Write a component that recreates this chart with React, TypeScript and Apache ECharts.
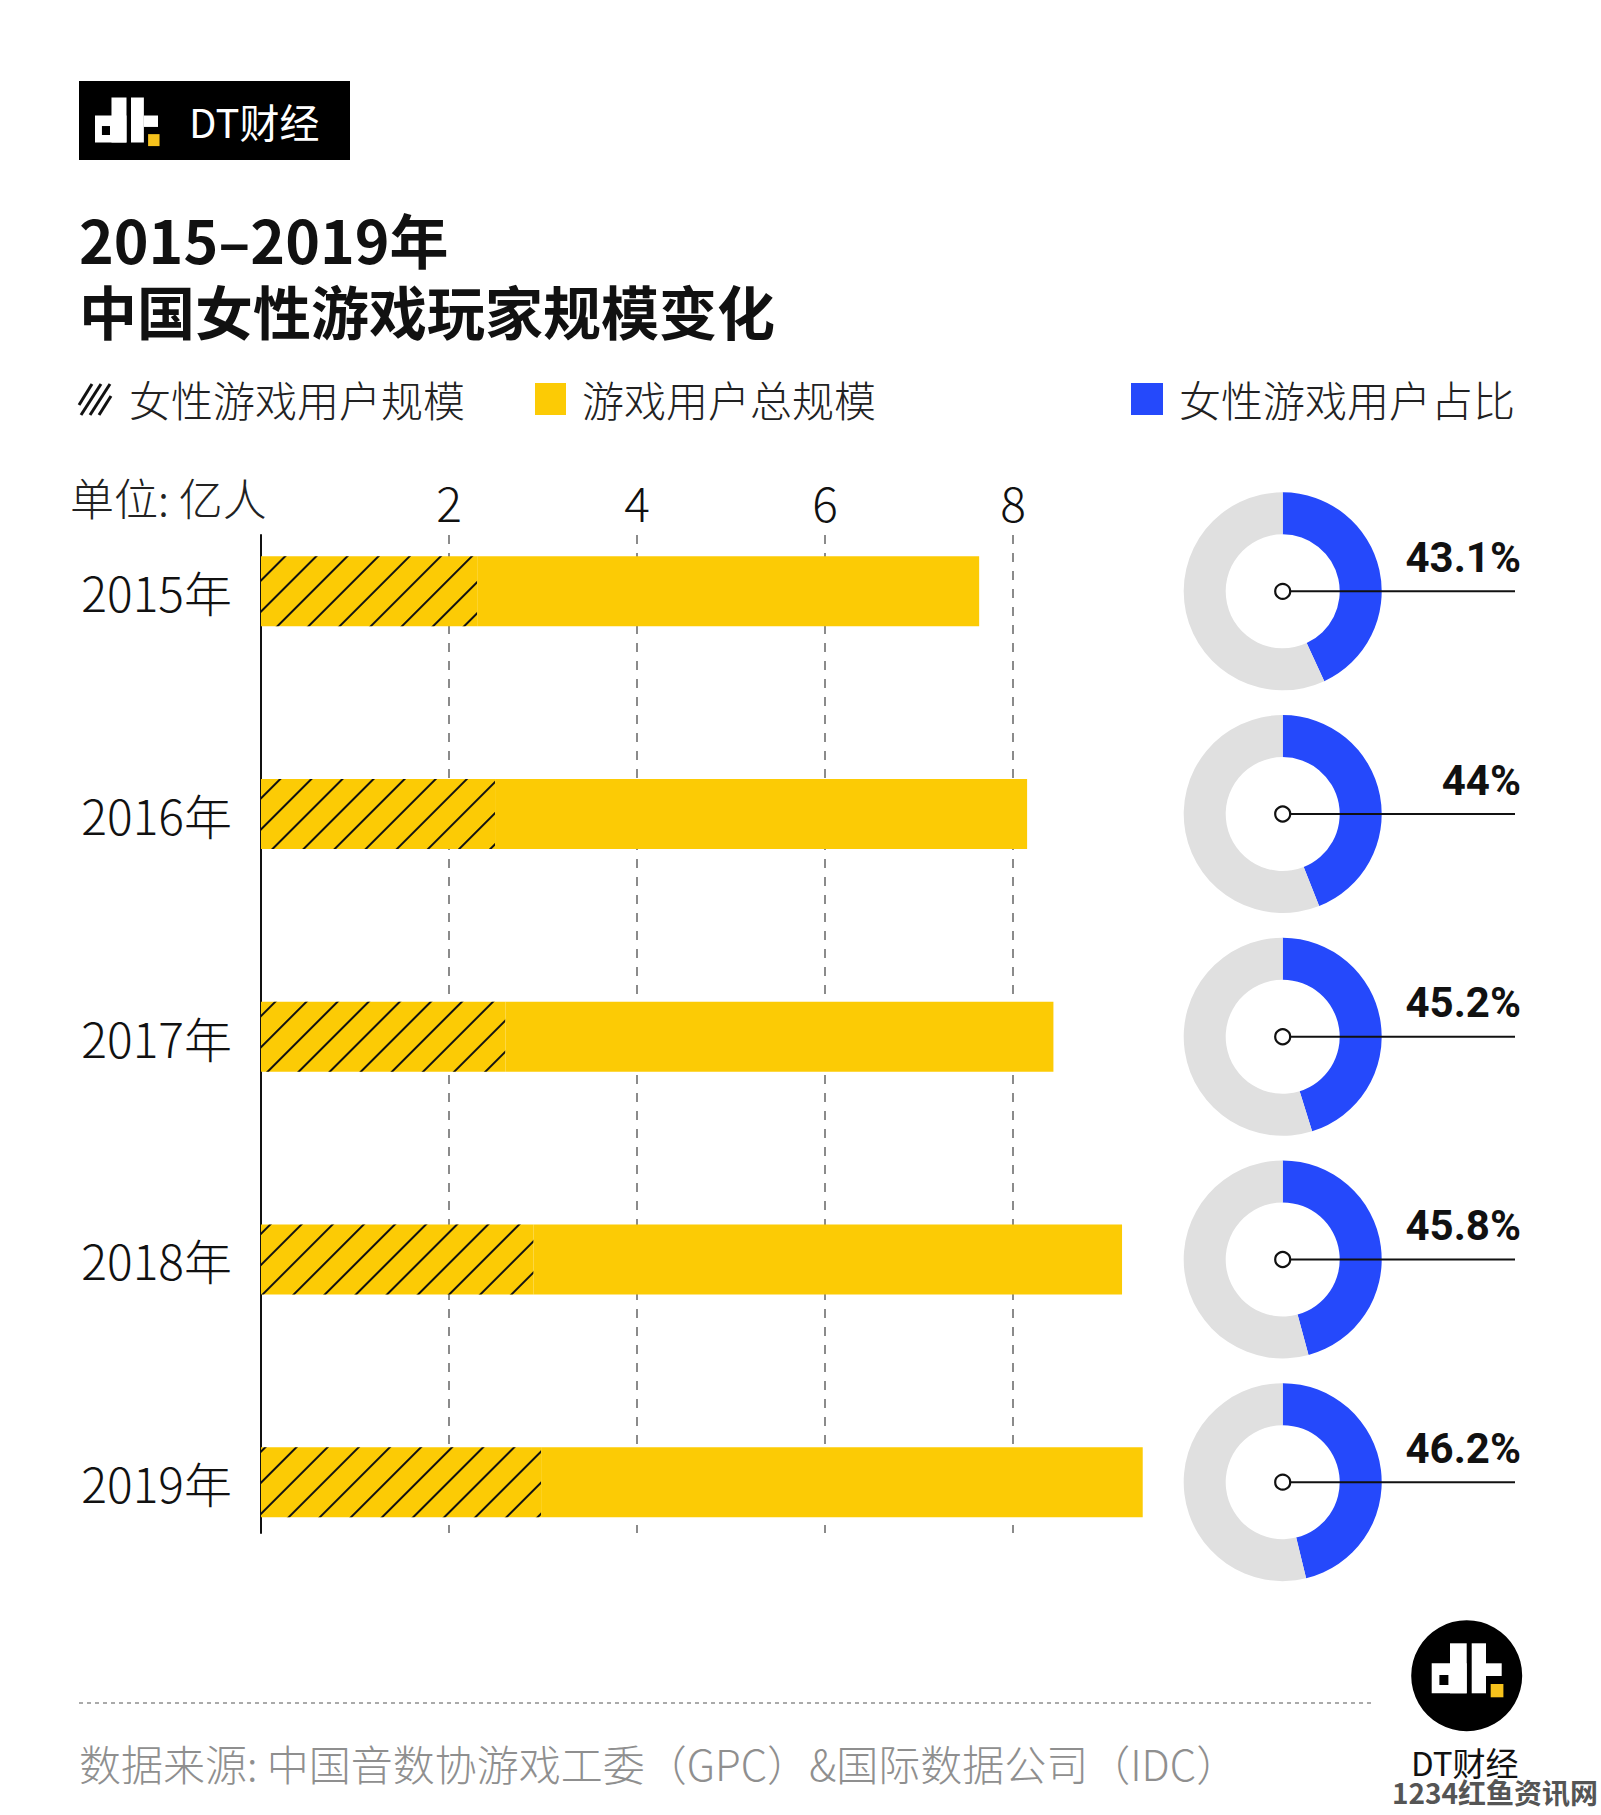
import React, { useEffect, useRef } from 'react';
import * as echarts from 'echarts';

// ---------- data ----------
const YEARS = ['2015年', '2016年', '2017年', '2018年', '2019年'];
const FEMALE = [2.3, 2.49, 2.6, 2.9, 2.98]; // 女性游戏用户规模 (亿人)
const TOTAL = [5.34, 5.66, 5.83, 6.26, 6.4]; // 游戏用户总规模 (亿人)
const SHARE = [43.1, 44, 45.2, 45.8, 46.2]; // 女性游戏用户占比 (%)

const TITLE_1 = '2015–2019年';
const TITLE_2 = '中国女性游戏玩家规模变化';
const LEGEND = ['女性游戏用户规模', '游戏用户总规模', '女性游戏用户占比'];
const UNIT = '单位: 亿人';
const SOURCE = '数据来源: 中国音数协游戏工委（GPC）&国际数据公司（IDC）';

// ---------- style ----------
const YELLOW = '#fccb05';
const BLUE = '#2549fb';
const GRAY = '#e0e0e0';
const LOGO_YELLOW = '#f6c21c';
const FONT = '"Noto Sans CJK SC", "Noto Sans", sans-serif';
const NUM_FONT = 'Roboto, "DejaVu Sans", sans-serif';

// layout
const PLOT_LEFT = 261;
const UNIT_PX = 94;
const GRID_TOP = 480;
const BAND = 222.7;
const PIE_X = 1282.7;

function logo(x0: number, y0: number, s: number) {
  const r = (x: number, y: number, w: number, h: number, fill: string, z: number) => ({
    type: 'rect',
    z,
    shape: { x: x0 + x * s, y: y0 + y * s, width: w * s, height: h * s },
    style: { fill },
    silent: true,
  });
  return [
    r(0, 20, 35, 30, '#fff', 110),
    r(18.3, 0, 16.7, 50, '#fff', 110),
    r(7.7, 31.7, 9, 10, '#000', 111),
    r(40, 0, 14.3, 50, '#fff', 110),
    r(54.3, 20, 15.7, 12.7, '#fff', 110),
    r(59, 40.7, 12.7, 13.3, LOGO_YELLOW, 110),
  ];
}

function text(x: number, y: number, t: string, size: number, fill: string, opts: any = {}) {
  return {
    type: 'text',
    x,
    y,
    z: 120,
    silent: true,
    style: {
      text: t,
      fontSize: size,
      lineHeight: size,
      fontFamily: opts.fontFamily || FONT,
      fontWeight: opts.fontWeight || 'normal',
      fill,
      align: opts.align || 'left',
      verticalAlign: 'middle',
      stroke: opts.stroke,
      lineWidth: opts.lineWidth,
    },
  };
}

function buildOption() {
  const centers = YEARS.map((_, i) => GRID_TOP + (i + 0.5) * BAND);

  const pies = SHARE.map((s, i) => ({
    type: 'pie',
    center: [PIE_X, centers[i]],
    radius: [57, 99],
    startAngle: 90,
    clockwise: true,
    silent: true,
    label: { show: false },
    labelLine: { show: false },
    emphasis: { disabled: true },
    data: [
      { value: s, name: 'female', itemStyle: { color: BLUE } },
      { value: 100 - s, name: 'other', itemStyle: { color: GRAY } },
    ],
  }));

  const graphics: any[] = [];
  // top-left brand box
  graphics.push({ type: 'rect', z: 100, shape: { x: 79, y: 81, width: 271, height: 79 }, style: { fill: '#000' }, silent: true });
  graphics.push(...logo(95, 97.5, 0.9));
  graphics.push(text(189, 121, 'DT财经', 40, '#fff'));
  // titles
  graphics.push(text(79, 238, TITLE_1, 59, '#111', { fontWeight: 'bold' }));
  graphics.push(text(79, 310, TITLE_2, 58, '#111', { fontWeight: 'bold' }));
  // legend
  const hatch = [
    [79, 405, 92, 384],
    [81, 415, 101, 384],
    [90, 415, 110, 384],
    [99, 415, 111, 396],
  ];
  hatch.forEach(([x1, y1, x2, y2]) =>
    graphics.push({ type: 'line', z: 120, silent: true, shape: { x1, y1, x2, y2 }, style: { stroke: '#111', lineWidth: 3 } })
  );
  graphics.push(text(129, 398, LEGEND[0], 42, '#222', { fontWeight: 300 }));
  graphics.push({ type: 'rect', z: 120, silent: true, shape: { x: 535, y: 383, width: 31, height: 32 }, style: { fill: YELLOW } });
  graphics.push(text(582, 398, LEGEND[1], 42, '#222', { fontWeight: 300 }));
  graphics.push({ type: 'rect', z: 120, silent: true, shape: { x: 1131, y: 383, width: 32, height: 32 }, style: { fill: BLUE } });
  graphics.push(text(1179, 398, LEGEND[2], 42, '#222', { fontWeight: 300 }));
  // unit
  graphics.push(text(70, 497, UNIT, 44, '#222', { fontWeight: 300 }));
  // pie annotations
  SHARE.forEach((s, i) => {
    const cy = centers[i];
    graphics.push({ type: 'line', z: 120, silent: true, shape: { x1: PIE_X, y1: cy, x2: 1515, y2: cy }, style: { stroke: '#111', lineWidth: 2 } });
    graphics.push({ type: 'circle', z: 121, silent: true, shape: { cx: PIE_X, cy, r: 7.5 }, style: { fill: '#fff', stroke: '#111', lineWidth: 2.2 } });
    graphics.push(text(1521, cy - 34, `${s}%`, 42, '#111', { fontWeight: 'bold', align: 'right', fontFamily: NUM_FONT }));
  });
  // footer
  graphics.push({ type: 'line', z: 120, silent: true, shape: { x1: 79, y1: 1703, x2: 1371, y2: 1703 }, style: { stroke: '#aaa', lineWidth: 2, lineDash: [4, 4] } });
  graphics.push(text(79, 1762, SOURCE, 42, '#8f8f8f', { fontWeight: 300 }));
  // bottom-right logo
  graphics.push({ type: 'circle', z: 100, silent: true, shape: { cx: 1466.7, cy: 1675.7, r: 55.5 }, style: { fill: '#000' } });
  graphics.push(...logo(1431.7, 1643.3, 1));
  graphics.push(text(1411, 1762, 'DT财经', 33, '#111'));
  graphics.push(text(1598, 1792, '1234红鱼资讯网', 28, '#555', { fontWeight: 'bold', align: 'right', stroke: '#fff', lineWidth: 3 }));

  return {
    animation: false,
    backgroundColor: '#fff',
    grid: [
      { left: PLOT_LEFT, top: GRID_TOP, width: UNIT_PX * 10, height: BAND * YEARS.length },
      { left: PLOT_LEFT, top: 535, width: UNIT_PX * 8, height: 998 },
    ],
    xAxis: [
      {
        type: 'value',
        gridIndex: 0,
        min: 0,
        max: 10,
        show: false,
      },
      {
        type: 'value',
        gridIndex: 1,
        min: 0,
        max: 8,
        interval: 2,
        position: 'top',
        axisLine: { show: false },
        axisTick: { show: false },
        axisLabel: {
          margin: 10,
          fontSize: 48,
          lineHeight: 48,
          fontFamily: FONT,
          fontWeight: 300,
          color: '#111',
          formatter: (v: number) => (v === 0 ? '' : String(v)),
        },
        splitLine: { show: true, lineStyle: { color: '#666', width: 1.5, type: [9, 9] } },
      },
    ],
    yAxis: [
      {
        type: 'category',
        gridIndex: 0,
        data: YEARS,
        inverse: true,
        axisLine: { show: false },
        axisTick: { show: false },
        splitLine: { show: false },
        axisLabel: { margin: 29, fontSize: 48, fontFamily: FONT, fontWeight: 300, color: '#111' },
      },
      {
        type: 'value',
        gridIndex: 1,
        min: 0,
        max: 1,
        axisLine: { show: true, lineStyle: { color: '#111', width: 2 } },
        axisTick: { show: false },
        axisLabel: { show: false },
        splitLine: { show: false },
      },
    ],
    series: [
      {
        type: 'line',
        xAxisIndex: 1,
        yAxisIndex: 1,
        data: [],
        silent: true,
      },
      {
        name: LEGEND[0],
        type: 'bar',
        stack: 'users',
        xAxisIndex: 0,
        yAxisIndex: 0,
        barWidth: 70,
        silent: true,
        itemStyle: {
          color: YELLOW,
          decal: {
            symbol: 'rect',
            symbolSize: 1,
            color: '#111',
            dashArrayX: [1, 0],
            dashArrayY: [2, 20],
            rotation: -Math.PI / 4,
          },
        },
        data: FEMALE,
      },
      {
        name: LEGEND[1],
        type: 'bar',
        stack: 'users',
        xAxisIndex: 0,
        yAxisIndex: 0,
        barWidth: 70,
        silent: true,
        itemStyle: { color: YELLOW },
        data: TOTAL,
      },
      ...pies,
    ],
    graphic: { elements: graphics },
  };
}

export default function App() {
  const ref = useRef<HTMLDivElement>(null);
  useEffect(() => {
    document.body.style.margin = '0';
    const chart = echarts.init(ref.current!, null, { renderer: 'svg' });
    chart.setOption(buildOption() as any);
    return () => chart.dispose();
  }, []);
  return <div ref={ref} style={{ width: 1601, height: 1815 }} />;
}
